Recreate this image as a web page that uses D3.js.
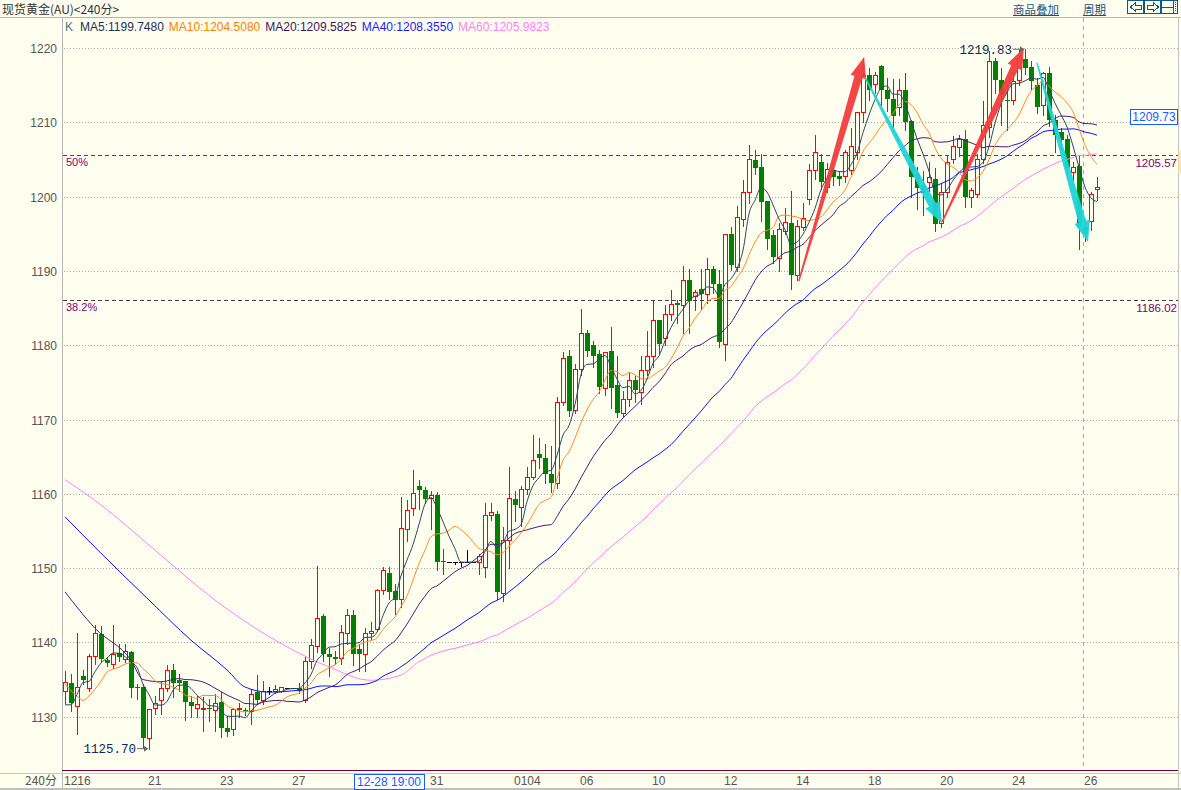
<!DOCTYPE html>
<html><head><meta charset="utf-8">
<script src="https://cdn.jsdelivr.net/npm/d3@7"></script>
<style>html,body{margin:0;padding:0;background:#fffff0;overflow:hidden}svg{display:block}</style>
</head><body><svg id="c" width="1181" height="790"></svg>
<script>
// ---- data (4h bars, index 0..172) ----
const opens=[1133.5,1134.6,1131.5,1135.5,1133.9,1138.2,1141.1,1137.6,1137.1,1138.6,
1137.7,1138.7,1134.0,1134.0,1127.2,1131.2,1132.2,1133.9,1136.3,1135.0,
1134.8,1132.0,1131.2,1131.0,1131.2,1130.9,1132.0,1128.5,1128.3,1131.0,
1130.9,1130.8,1133.3,1132.2,1133.4,1133.4,1133.4,1133.9,1133.9,1133.9,
1132.3,1137.5,1139.5,1143.5,1138.4,1138.1,1137.9,1141.3,1143.7,1139.1,
1138.4,1141.2,1141.8,1147.0,1149.4,1146.9,1145.9,1155.3,1158.1,1161.0,
1160.5,1159.5,1159.9,1151.0,1150.8,1150.8,1150.8,1150.8,1150.8,1150.8,
1150.1,1157.2,1157.3,1146.7,1153.8,1159.3,1158.2,1160.7,1162.2,1165.4,
1164.8,1162.6,1161.5,1172.4,1178.5,1171.3,1176.8,1181.7,1180.0,1178.8,
1174.3,1179.2,1174.6,1170.9,1172.8,1175.3,1173.7,1176.6,1178.5,1183.4,
1181.0,1184.2,1185.7,1185.4,1188.8,1186.6,1187.6,1186.9,1190.3,1188.3,
1180.1,1194.9,1190.5,1197.0,1200.6,1204.9,1204.0,1199.4,1194.8,1191.7,
1195.4,1196.5,1189.4,1195.9,1199.7,1203.6,1204.6,1201.3,1203.6,1202.8,
1202.8,1203.6,1206.0,1211.4,1216.4,1215.2,1217.6,1214.3,1213.2,1212.1,
1214.3,1210.2,1203.1,1201.5,1201.9,1202.4,1196.5,1200.6,1205.1,1206.7,
1207.7,1199.9,1200.4,1205.0,1209.4,1218.2,1215.7,1213.0,1213.0,1215.7,
1218.5,1217.4,1215.0,1212.3,1216.7,1210.3,1208.7,1207.7,1203.3,1204.1,
1195.9,1196.7,1201.0];
const highs=[1136.2,1135.8,1141.2,1136.3,1138.4,1142.4,1142.2,1138.0,1142.3,1139.8,
1139.8,1138.9,1134.4,1134.4,1131.1,1132.8,1134.8,1137.0,1137.1,1135.8,
1134.8,1132.8,1132.8,1132.6,1132.4,1133.0,1133.3,1130.1,1131.2,1131.8,
1131.2,1133.7,1135.6,1134.8,1134.0,1134.2,1134.0,1133.9,1133.9,1134.6,
1138.0,1140.5,1150.3,1143.8,1139.3,1138.9,1142.3,1144.5,1144.3,1139.8,
1142.0,1142.8,1147.2,1150.1,1150.1,1147.9,1159.6,1159.1,1163.2,1161.9,
1160.9,1160.4,1160.2,1152.6,1150.8,1150.8,1150.8,1152.5,1150.8,1151.9,
1158.7,1158.7,1157.7,1155.5,1163.6,1160.4,1161.1,1163.6,1167.9,1167.5,
1166.7,1166.5,1173.0,1179.1,1179.3,1177.5,1184.9,1182.1,1180.6,1179.3,
1179.1,1182.5,1178.6,1173.9,1176.4,1175.8,1178.6,1181.9,1186.1,1183.4,
1185.4,1187.4,1186.1,1190.6,1190.3,1187.4,1190.2,1191.7,1190.6,1190.1,
1194.9,1195.9,1198.7,1202.2,1206.9,1206.3,1205.8,1199.4,1195.5,1196.5,
1198.4,1200.8,1196.8,1199.2,1204.4,1208.3,1205.8,1204.5,1204.0,1203.3,
1206.3,1209.3,1211.4,1218.6,1217.3,1216.8,1217.7,1216.0,1215.8,1215.8,
1216.6,1210.3,1204.0,1203.5,1204.7,1203.8,1201.8,1205.6,1208.1,1208.3,
1209.0,1201.1,1205.8,1212.8,1219.6,1218.6,1217.3,1215.0,1216.8,1219.7,
1219.83,1218.2,1215.9,1216.8,1217.5,1211.0,1209.2,1208.3,1204.7,1205.4,
1197.0,1200.6,1202.7];
const lows=[1131.9,1130.8,1127.7,1134.4,1133.5,1137.1,1137.3,1136.8,1136.6,1137.5,
1137.3,1132.6,1132.4,1125.9,1125.7,1130.4,1130.3,1133.5,1132.6,1133.5,
1129.5,1129.9,1129.9,1128.1,1129.4,1128.1,1127.3,1127.4,1127.6,1130.0,
1130.2,1129.0,1131.9,1131.7,1133.0,1133.2,1133.3,1133.9,1133.9,1133.2,
1132.0,1136.6,1138.7,1137.5,1135.5,1137.1,1137.1,1139.8,1137.0,1136.2,
1136.1,1140.5,1141.6,1146.5,1145.9,1143.8,1144.8,1153.7,1157.1,1158.0,
1158.7,1155.3,1149.7,1149.2,1150.8,1150.5,1150.3,1150.8,1150.8,1149.2,
1148.8,1156.5,1145.9,1145.6,1150.0,1156.4,1155.6,1160.0,1162.0,1163.5,
1161.5,1160.2,1160.8,1171.9,1170.5,1170.9,1176.0,1178.5,1177.1,1173.5,
1173.3,1171.5,1170.3,1170.5,1171.8,1172.4,1172.1,1176.0,1177.0,1179.0,
1180.0,1183.4,1183.0,1181.6,1181.6,1184.7,1184.9,1185.7,1187.0,1179.8,
1178.0,1190.1,1190.0,1196.0,1199.1,1203.0,1196.7,1193.0,1191.0,1190.0,
1195.0,1187.6,1188.8,1195.5,1199.0,1202.4,1201.0,1200.6,1201.5,1201.5,
1202.0,1203.0,1205.0,1210.0,1213.0,1214.0,1212.3,1211.5,1209.0,1211.0,
1209.0,1200.0,1198.3,1197.5,1200.8,1195.4,1195.9,1200.0,1204.5,1205.5,
1198.6,1198.6,1200.0,1204.5,1208.0,1214.0,1209.6,1209.0,1212.5,1215.0,
1216.5,1214.5,1211.2,1211.0,1209.5,1206.0,1206.5,1203.0,1202.2,1193.0,
1194.0,1195.5,1199.5];
const closes=[1134.7,1131.9,1134.0,1135.0,1138.2,1141.2,1137.7,1137.25,1138.5,1138.1,
1138.9,1133.9,1133.8,1127.2,1131.1,1131.9,1133.8,1136.3,1134.6,1134.6,
1132.0,1131.5,1131.7,1131.2,1131.0,1131.8,1128.5,1127.9,1131.0,1131.2,
1130.7,1133.0,1132.2,1133.5,1133.4,1133.7,1134.0,1133.9,1133.9,1133.5,
1137.5,1139.6,1143.3,1138.4,1138.0,1137.8,1141.4,1143.7,1138.5,1138.4,
1141.3,1141.6,1147.1,1149.7,1146.8,1145.7,1155.4,1157.8,1160.1,1160.5,
1159.3,1159.8,1150.8,1150.8,1150.8,1150.8,1150.8,1150.8,1150.8,1151.6,
1157.2,1157.5,1146.8,1153.8,1159.5,1158.5,1160.7,1162.2,1164.6,1164.8,
1162.6,1161.5,1172.4,1178.3,1171.1,1176.8,1181.7,1179.2,1178.6,1174.4,
1179.1,1174.3,1170.9,1172.7,1175.3,1174.0,1176.7,1178.5,1183.4,1180.2,
1184.2,1185.6,1185.4,1188.8,1186.0,1187.2,1186.9,1190.3,1188.3,1180.4,
1194.9,1190.8,1197.2,1200.6,1205.0,1203.9,1199.3,1194.3,1191.9,1195.6,
1196.6,1189.4,1196.0,1197.1,1203.6,1206.0,1202.0,1203.7,1202.7,1202.4,
1206.0,1206.8,1211.4,1216.4,1214.3,1216.4,1214.3,1213.1,1210.8,1214.3,
1210.1,1202.7,1201.1,1200.5,1202.6,1196.3,1200.6,1204.6,1206.8,1207.7,
1199.9,1200.9,1205.0,1209.6,1218.2,1215.7,1213.7,1212.8,1215.5,1218.6,
1217.3,1215.5,1212.1,1216.7,1210.3,1208.3,1207.6,1203.9,1204.0,1195.9,
1195.0,1200.4,1201.3];

const ma5Lead=[[0,1131.6],[1,1131.6],[2,1133.0],[3,1134.6]];
const ma10Lead=[[0,1134.4],[1,1133.5],[2,1132.8],[3,1132.2],[4,1132.8],[5,1133.7],[6,1134.8],[7,1136.0],[8,1136.4]];
const ma20Lead=[[0,1146.8],[5,1141.9],[11,1137.6],[13,1135.0],[16,1134.7]];
const ma40Lead=[[0,1156.9],[6,1152.0],[14,1145.7],[21,1140.3],[27,1136.3],[30,1134.0],[34,1133.3]];
const ma60Lead=[[0,1161.9],[6,1158.5],[14,1153.1],[25,1145.7],[31,1142.3],[37,1139.4],[44,1136.7],[51,1134.9],[56,1135.6]];

const maNames=['MA5','MA10','MA20','MA40','MA60'];
const maPeriods=[5,10,20,40,60];
const maLegendValues=[1199.7480,1204.5080,1209.5825,1208.3550,1205.9823];
const maColors=['#2b4660','#ff8a1c','#4e1a7e','#1010ff','#ff80ff'];
const maLegendColors=['#1c2f5a','#ff8000','#3c1464','#1a1aff','#ff80ff'];

const yTicks=[1130,1140,1150,1160,1170,1180,1190,1200,1210,1220];
const dateLabels=['1216','21','23','27','31','0104','06','10','12','14','18','20','24','26'];
const dateIndex=[0,14,26,38,61,75,86,98,110,122,134,146,158,170];
const fibLevels=[{pct:'50%',v:1205.57,line:'#b000b0'},{pct:'38.2%',v:1186.02,line:'#4a3a4a'}];
const extremes=[{i:14,v:1125.70},{i:160,v:1219.83}];
const arrows=[
 {from:[122.3,1188.6],to:[133.2,1218.8],color:'#f23c3c'},
 {from:[133.3,1216.1],to:[146.2,1196.4],color:'#1fd3da'},
 {from:[146.2,1196.6],to:[159.8,1220.0],color:'#f23c3c'},
 {from:[162.0,1218.0],to:[170.5,1193.9],color:'#1fd3da'}];
const cursorIndex=170;
const cursorLabel='12-28 19:00', cursorLabelIndex=54;
const boxValue=1209.73;

// ---- layout ----
const svg=d3.select('#c');
const BG='#fffff0';
const L=62,R=1178,T=17,B=770;
const x=d3.scaleLinear().domain([0,172]).range([65,1097]);
const y=d3.scaleLinear().domain([1130,1220]).range([716.7,48]);
const font='Liberation Sans, Arial, sans-serif';
const cjk='"Noto Sans CJK SC", sans-serif';

svg.append('rect').attr('width',1181).attr('height',790).attr('fill',BG);

// frame
const frame=svg.append('g').attr('shape-rendering','crispEdges');
frame.append('line').attr('x1',0).attr('x2',1181).attr('y1',T+0.5).attr('y2',T+0.5).attr('stroke','#b4b4b4');
frame.append('line').attr('x1',L+0.5).attr('x2',L+0.5).attr('y1',T).attr('y2',790).attr('stroke','#b4b4b4');
frame.append('line').attr('x1',R+0.5).attr('x2',R+0.5).attr('y1',T).attr('y2',788).attr('stroke','#c4c4c4');
frame.append('line').attr('x1',L).attr('x2',R).attr('y1',B+0.5).attr('y2',B+0.5).attr('stroke','#7a0035');
frame.append('line').attr('x1',0).attr('x2',1181).attr('y1',773.5).attr('y2',773.5).attr('stroke','#c8c8c8');
frame.append('rect').attr('x',0).attr('y',788).attr('width',1181).attr('height',2).attr('fill','#c0c0c0');

// header
svg.append('text').attr('x',2).attr('y',14).attr('font-family',cjk).attr('font-size',12).attr('fill','#333').text('现货黄金(AU)<240分>');
const link='#0b5a84';
[['商品叠加',1013],['周期',1083]].forEach(([t,px])=>{
  const tt=svg.append('text').attr('x',px).attr('y',13.5).attr('font-family',cjk).attr('font-size',11.5).attr('fill',link).text(t);
  const w=tt.node().getComputedTextLength();
  svg.append('line').attr('x1',px).attr('x2',px+w).attr('y1',15.5).attr('y2',15.5).attr('stroke',link).attr('shape-rendering','crispEdges');
});
const ic=svg.append('g').attr('stroke',link).attr('fill','none').attr('shape-rendering','crispEdges');
[1127.5,1144.5,1161.5].forEach(px=>ic.append('rect').attr('x',px).attr('y',0.5).attr('width',16).attr('height',13));
ic.append('path').attr('d','M1130.5,7 L1135.5,2.5 L1135.5,5 L1141.5,5 L1141.5,9 L1135.5,9 L1135.5,11.5 Z');
ic.append('path').attr('d','M1158.5,7 L1153.5,2.5 L1153.5,5 L1147.5,5 L1147.5,9 L1153.5,9 L1153.5,11.5 Z');
ic.append('line').attr('x1',1161.5).attr('x2',1173.5).attr('y1',7.5).attr('y2',7.5);
ic.append('line').attr('x1',1173.5).attr('x2',1173.5).attr('y1',0.5).attr('y2',13.5);
ic.append('line').attr('x1',1175.5).attr('x2',1175.5).attr('y1',2).attr('y2',12).attr('stroke-dasharray','1,1');

// legend
let lx=65;
const lg=svg.append('g').attr('font-family',font).attr('font-size',12);
lg.append('text').attr('x',lx).attr('y',31).attr('fill','#4a7a7a').text('K');
lx+=15;
maNames.forEach((n,k)=>{
  const t=lg.append('text').attr('x',lx).attr('y',31).attr('fill',maLegendColors[k]).text(n+':'+maLegendValues[k].toFixed(4));
  lx+=t.node().getComputedTextLength()+5;
});

// grid + y labels
const grid=svg.append('g').attr('shape-rendering','crispEdges');
yTicks.forEach(v=>{
  const yy=Math.round(y(v))+0.5;
  grid.append('line').attr('x1',L+2).attr('x2',R).attr('y1',yy).attr('y2',yy).attr('stroke','#a8a8a8').attr('stroke-dasharray','1,2');
  svg.append('text').attr('x',57).attr('y',yy).attr('dy','0.35em').attr('text-anchor','end').attr('font-family',font).attr('font-size',12).attr('fill','#555').text(v);
});

// fib lines
fibLevels.forEach(f=>{
  const yy=Math.round(y(f.v))+0.5;
  grid.append('line').attr('x1',L+1).attr('x2',R).attr('y1',yy).attr('y2',yy).attr('stroke',f.line).attr('stroke-dasharray','4,3');
  svg.append('text').attr('x',66).attr('y',yy+7).attr('dy','0.35em').attr('font-family',font).attr('font-size',11).attr('fill','#800070').text(f.pct);
  svg.append('text').attr('x',1177).attr('y',yy+7).attr('dy','0.35em').attr('text-anchor','end').attr('font-family',font).attr('font-size',11.5).attr('fill','#800070').text(f.v.toFixed(2));
});
svg.append('rect').attr('x',1178.5).attr('y',y(fibLevels[0].v)-5).attr('width',3).attr('height',23).attr('fill','#ffe6b0');

// cursor line
grid.append('line').attr('x1',Math.round(x(cursorIndex))-1.5).attr('x2',Math.round(x(cursorIndex))-1.5).attr('y1',T+1).attr('y2',B).attr('stroke','#a8a8a8').attr('stroke-dasharray','4,4');

// plot clip
svg.append('clipPath').attr('id','pc').append('rect').attr('x',L+1).attr('y',T+1).attr('width',R-L-1).attr('height',B-T-1);
const plot=svg.append('g').attr('clip-path','url(#pc)');

// candles
const cg=plot.append('g').attr('shape-rendering','crispEdges');
closes.forEach((c,i)=>{
  const o=opens[i],h=highs[i],l=lows[i];
  const cx=Math.round(x(i));
  const doji=Math.abs(o-c)<0.05;
  const up=c>o;
  const col=doji?'#000':(up?'#ff0000':'#008000');
  cg.append('line').attr('x1',cx+0.5).attr('x2',cx+0.5).attr('y1',Math.round(y(h))).attr('y2',Math.round(y(l))+1).attr('stroke',col);
  if(doji){
    const yy=Math.round(y(c))+0.5;
    cg.append('line').attr('x1',cx-2).attr('x2',cx+3).attr('y1',yy).attr('y2',yy).attr('stroke','#000');
  } else if(up){
    const t=Math.round(y(c)),b=Math.round(y(o));
    cg.append('rect').attr('x',cx-1.5).attr('y',t+0.5).attr('width',4).attr('height',Math.max(b-t,1)).attr('fill',BG).attr('stroke',col);
  } else {
    const t=Math.round(y(o)),b=Math.round(y(c));
    cg.append('rect').attr('x',cx-2).attr('y',t).attr('width',5).attr('height',Math.max(b-t,1)).attr('fill',col);
  }
});

// moving averages
function sma(n){const out=[];for(let i=n-1;i<closes.length;i++){let s=0;for(let k=i-n+1;k<=i;k++)s+=closes[k];out.push([i,s/n]);}return out;}
const leads=[ma5Lead,ma10Lead,ma20Lead,ma40Lead,ma60Lead];
const line=d3.line().x(d=>x(d[0])).y(d=>y(d[1])).curve(d3.curveMonotoneX);
[4,3,2,1,0].forEach(k=>{
  const n=maPeriods[k];
  const pts=leads[k].filter(p=>p[0]<n-1).concat(sma(n));
  plot.append('path').attr('d',line(pts)).attr('fill','none').attr('stroke',maColors[k]).attr('stroke-width',1);
});

// arrows
function arrowPoly(x1,y1,x2,y2,tw,sw,hw,hl){
  const dx=x2-x1,dy=y2-y1,len=Math.hypot(dx,dy),ux=dx/len,uy=dy/len,nx=-uy,ny=ux;
  const bx=x2-ux*hl,by=y2-uy*hl;
  return [[x1+nx*tw/2,y1+ny*tw/2],[bx+nx*sw/2,by+ny*sw/2],[bx+nx*hw/2,by+ny*hw/2],[x2,y2],[bx-nx*hw/2,by-ny*hw/2],[bx-nx*sw/2,by-ny*sw/2],[x1-nx*tw/2,y1-ny*tw/2]];
}
arrows.forEach(a=>{
  const p=arrowPoly(x(a.from[0]),y(a.from[1]),x(a.to[0]),y(a.to[1]),1.5,8,16,21);
  plot.append('path').attr('d','M'+p.map(q=>q.join(',')).join('L')+'Z').attr('fill',a.color).attr('opacity',0.95);
});

// extreme labels
extremes.forEach(e=>{
  const px=x(e.i), py=y(e.v);
  const ax=px-1, bx=px-12;
  const g=svg.append('g');
  g.append('line').attr('x1',bx).attr('x2',ax).attr('y1',py).attr('y2',py).attr('stroke','#666');
  g.append('path').attr('d',`M${ax},${py}L${ax-4},${py-3}L${ax-4},${py+3}Z`).attr('fill','#666');
  g.append('text').attr('x',bx-1).attr('y',py).attr('dy','0.38em').attr('text-anchor','end').attr('font-family','Liberation Mono, DejaVu Sans Mono, monospace').attr('font-size',12.5).attr('fill','#0c2b5a').text(e.v.toFixed(2));
});

// right value box
const by=Math.round(y(boxValue))-15;
svg.append('rect').attr('x',1130.5).attr('y',by+0.5).attr('width',47).attr('height',15).attr('fill','#fff').attr('stroke','#1a5aff').attr('shape-rendering','crispEdges');
svg.append('text').attr('x',1154).attr('y',by+8).attr('dy','0.36em').attr('text-anchor','middle').attr('font-family',font).attr('font-size',12).attr('fill','#1a5aff').text(boxValue.toFixed(2));

// x labels
svg.append('text').attr('x',57).attr('y',781).attr('dy','0.35em').attr('text-anchor','end').attr('font-family',cjk).attr('font-size',12).attr('fill','#555').text('240分');
dateLabels.forEach((t,k)=>{
  svg.append('text').attr('x',x(dateIndex[k])-1).attr('y',781).attr('dy','0.35em').attr('font-family',font).attr('font-size',12).attr('fill','#555').text(t);
});
const cxl=x(cursorLabelIndex);
svg.append('rect').attr('x',Math.round(cxl-35)+0.5).attr('y',774.5).attr('width',70).attr('height',15).attr('fill','#fff').attr('stroke','#1a5aff').attr('shape-rendering','crispEdges');
svg.append('text').attr('x',cxl).attr('y',782).attr('dy','0.35em').attr('text-anchor','middle').attr('font-family',font).attr('font-size',12).attr('fill','#1a5aff').text(cursorLabel);
</script></body></html>
